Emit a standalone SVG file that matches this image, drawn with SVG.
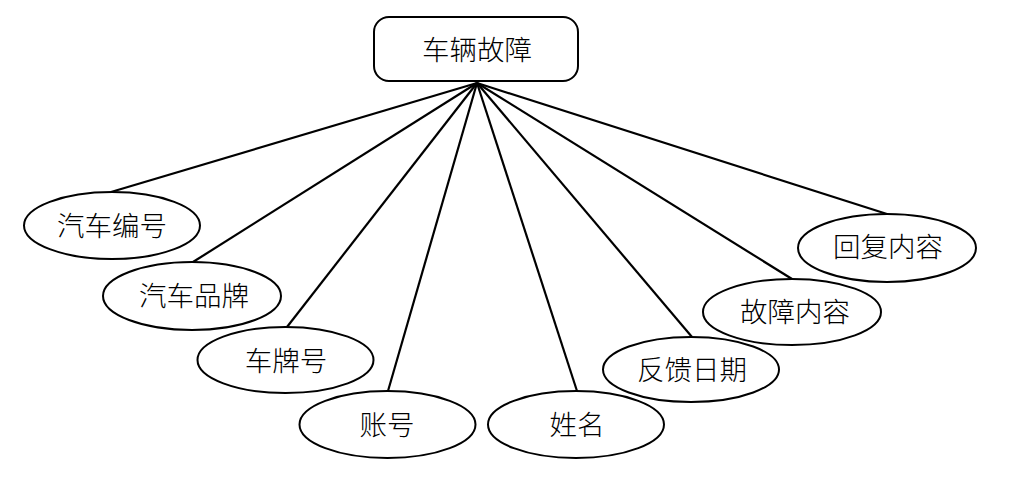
<svg xmlns="http://www.w3.org/2000/svg" width="1029" height="485" viewBox="0 0 1029 485">
<style>
.n{fill:#fff;stroke:#000;stroke-width:2}
.t{font-family:"Noto Sans CJK SC","Noto Sans",sans-serif;font-size:27.5px;font-weight:300;fill:#000;text-anchor:middle;dominant-baseline:central}
.c line{stroke:#000;stroke-width:2.2}
</style>
<rect width="1029" height="485" fill="#fff"/>
<g class="c" id="connectors">
<line x1="477" y1="83" x2="111" y2="192"/>
<line x1="477" y1="83" x2="193" y2="262"/>
<line x1="477" y1="83" x2="287" y2="327"/>
<line x1="477" y1="83" x2="388" y2="391"/>
<line x1="477" y1="83" x2="577" y2="391"/>
<line x1="477" y1="83" x2="692" y2="337"/>
<line x1="477" y1="83" x2="792" y2="279"/>
<line x1="477" y1="83" x2="887" y2="214"/>
</g>
<g id="n0"><rect class="n" x="374" y="17" width="204" height="64" rx="15"/><text class="t" x="477" y="48">车辆故障</text></g>
<g id="n1"><ellipse class="n" cx="112" cy="225.5" rx="88" ry="33.5"/><text class="t" x="112" y="224">汽车编号</text></g>
<g id="n2"><ellipse class="n" cx="192" cy="296" rx="89" ry="34"/><text class="t" x="194" y="294">汽车品牌</text></g>
<g id="n3"><ellipse class="n" cx="285.5" cy="360" rx="88" ry="33"/><text class="t" x="286" y="359">车牌号</text></g>
<g id="n4"><ellipse class="n" cx="387.5" cy="424.5" rx="88" ry="33.5"/><text class="t" x="387" y="423">账号</text></g>
<g id="n5"><ellipse class="n" cx="576" cy="424.5" rx="88" ry="33.5"/><text class="t" x="577" y="423">姓名</text></g>
<g id="n6"><ellipse class="n" cx="691" cy="369.5" rx="88" ry="32.5"/><text class="t" x="692" y="368">反馈日期</text></g>
<g id="n7"><ellipse class="n" cx="792" cy="312" rx="89" ry="33"/><text class="t" x="795" y="310">故障内容</text></g>
<g id="n8"><ellipse class="n" cx="887" cy="248" rx="89" ry="34"/><text class="t" x="888" y="245">回复内容</text></g>
</svg>
